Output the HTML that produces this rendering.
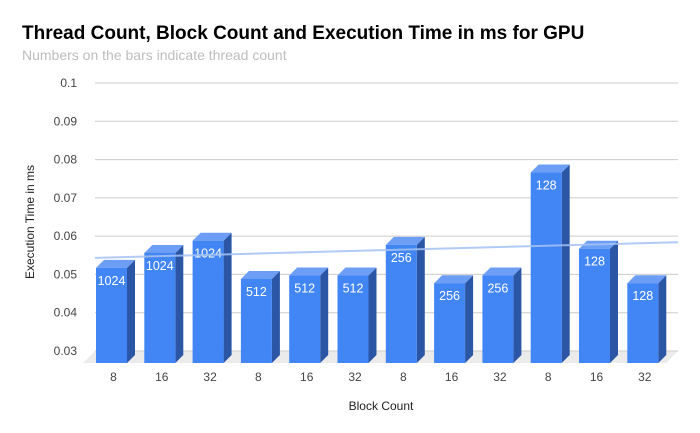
<!DOCTYPE html>
<html><head><meta charset="utf-8"><style>
body{margin:0;background:#fff;}
svg{display:block;font-family:"Liberation Sans",Arial,sans-serif;}
</style></head><body>
<svg id="chart" width="700" height="433" viewBox="0 0 700 433">
<rect width="700" height="433" fill="#fff"/>
<text x="22" y="39" font-size="19" font-weight="bold" fill="#000">Thread Count, Block Count and Execution Time in ms for GPU</text>
<text x="22" y="60" font-size="14" fill="#bdbdbd">Numbers on the bars indicate thread count</text>
<text transform="translate(34,222) rotate(-90)" text-anchor="middle" font-size="12" fill="#222">Execution Time in ms</text>
<text x="381" y="410" text-anchor="middle" font-size="12" fill="#222">Block Count</text>
<g id="grid"></g><g id="bars"></g><g id="trend"></g>
</svg>
<script>
const categories=["8","16","32","8","16","32","8","16","32","8","16","32"];
const values=[0.0538,0.0577,0.0609,0.0509,0.0518,0.0518,0.0598,0.0498,0.0518,0.0787,0.0588,0.0498];
const threadLabels=["1024","1024","1024","512","512","512","256","256","256","128","128","128"];
const yTicks=[0.03,0.04,0.05,0.06,0.07,0.08,0.09,0.1];
const NS="http://www.w3.org/2000/svg";
const yMin=0.03,yMax=0.1,yBot=351,yTop=83;
const y=v=>yBot-(v-yMin)/(yMax-yMin)*(yBot-yTop);
const step=48.3,D=8,W=31;
const xFront=i=>96+step*i;
function mk(t,a,p){const e=document.createElementNS(NS,t);for(const k in a)e.setAttribute(k,a[k]);p.appendChild(e);return e;}
const grid=document.getElementById('grid'),bars=document.getElementById('bars'),trend=document.getElementById('trend');
const floor=mk('polygon',{points:`95,351 678,351 666,363 83,363`,fill:'#ebebeb'},grid);


yTicks.forEach(t=>{
  const l=mk('line',{x1:95,x2:678,y1:y(t),y2:y(t),stroke:'#cccccc','stroke-width':1},grid);
  
  
  const tx=mk('text',{x:77,y:y(t)+4,'text-anchor':'end','font-size':12,fill:'#444'},grid);
  tx.textContent=String(t);
  
  
});
values.forEach((v,i)=>{
  const x0=xFront(i),top=y(v)+D,bot=363;
  const g=mk('g',{},bars);
  
  
  mk('polygon',{points:`${x0+W},${top} ${x0+W+D},${top-D} ${x0+W+D},${bot-D} ${x0+W},${bot}`,fill:'#2a56a5'},g);
  mk('polygon',{points:`${x0},${top} ${x0+D},${top-D} ${x0+W+D},${top-D} ${x0+W},${top}`,fill:'#6d9ef5'},g);
  mk('rect',{x:x0,y:top,width:W,height:bot-top,fill:'#4285f4'},g);
  const lb=mk('text',{x:x0+W/2,y:top+17,'text-anchor':'middle','font-size':12.5,fill:'#fff'},g);
  lb.textContent=threadLabels[i];
  
  
  const xl=mk('text',{x:x0+W/2+2,y:381,'text-anchor':'middle','font-size':12,fill:'#444'},grid);
  xl.textContent=categories[i];
  
  
});
// linear regression trendline
const n=values.length,mx=(n-1)/2,my=values.reduce((a,b)=>a+b,0)/n;
let sxy=0,sxx=0;values.forEach((v,i)=>{sxy+=(i-mx)*(v-my);sxx+=(i-mx)*(i-mx);});
const slope=sxy/sxx,icpt=my-slope*mx;
const xc=i=>xFront(i)+W/2;
const i0=(95-xc(0))/step,i1=(678-xc(0))/step;
const tl=mk('line',{x1:95,y1:y(icpt+slope*i0),x2:678,y2:y(icpt+slope*i1),stroke:'#a4c2f4','stroke-width':2,'stroke-opacity':0.85},trend);


</script>
</body></html>
